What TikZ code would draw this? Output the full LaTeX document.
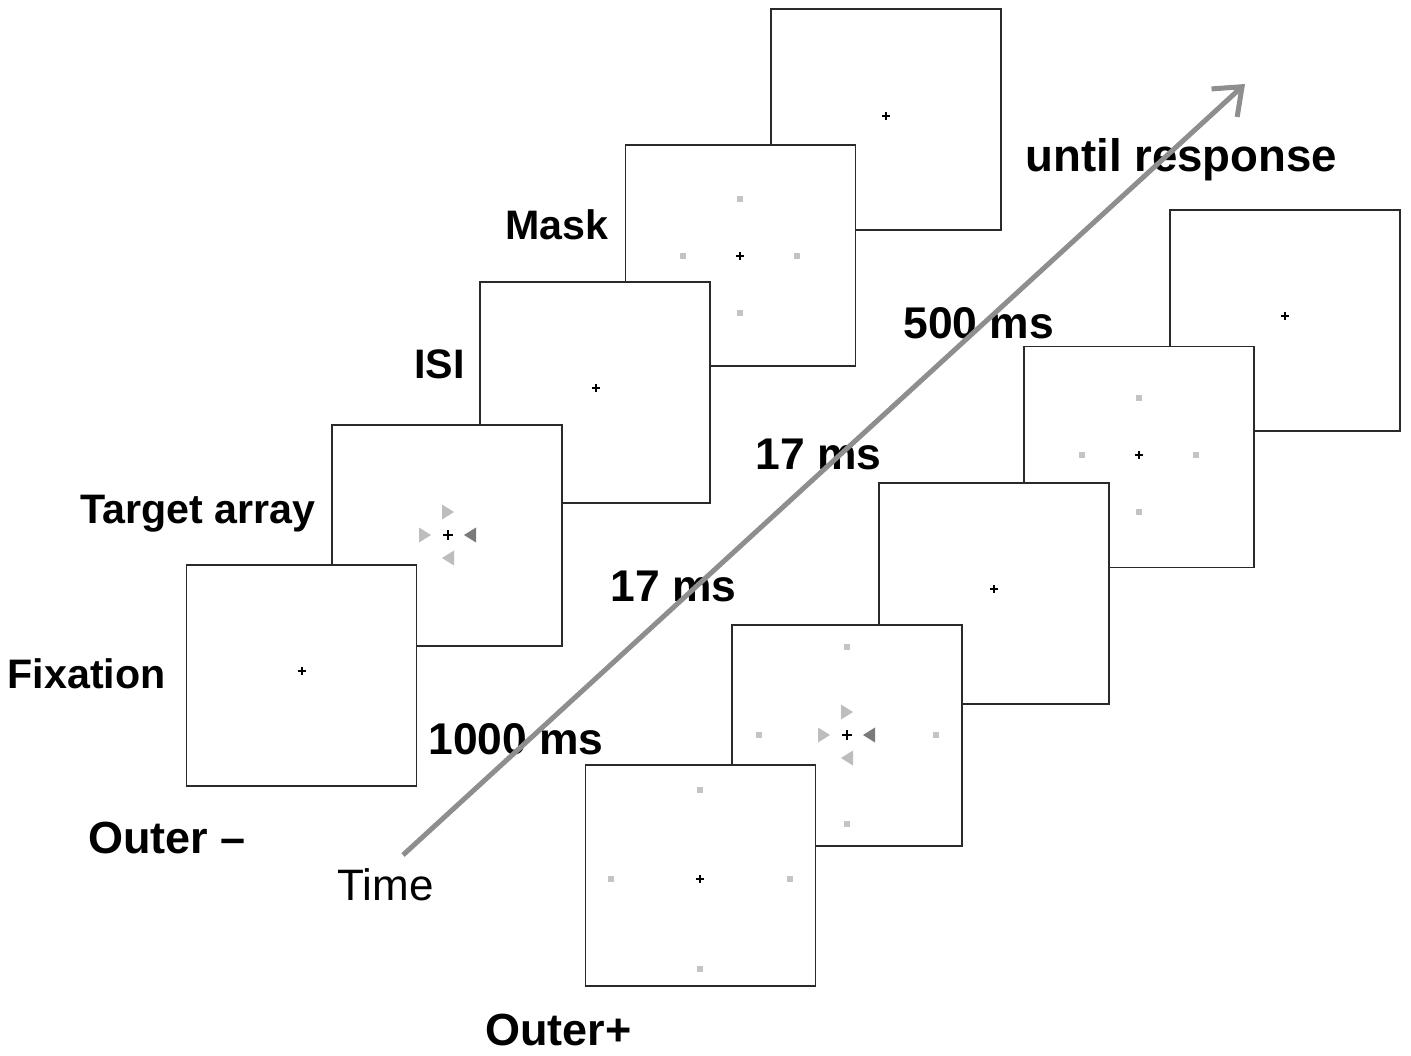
\documentclass[tikz,border=0pt]{standalone}
\usepackage{fontspec}
\setmainfont{Liberation Sans}
\usetikzlibrary{arrows.meta}
\definecolor{dotgray}{HTML}{C4C4C4}
\definecolor{trilight}{HTML}{BDBDBD}
\definecolor{tridark}{HTML}{7A7A7A}
\definecolor{arrowgray}{HTML}{8E8E8E}
\definecolor{framecol}{HTML}{2A2A2A}
\newcommand\smallcross[2]{\draw[line width=0.85pt] (#1-4,#2) -- (#1+4,#2) (#1,#2-4) -- (#1,#2+4);}
\newcommand\boldcross[2]{\draw[line width=1.3pt] (#1-5,#2) -- (#1+5,#2) (#1,#2-5) -- (#1,#2+5);}
\newcommand\gdot[2]{\fill[dotgray] (#1-3,#2-3) rectangle (#1+3,#2+3);}
\newcommand\rtri[3]{\fill[#3] (#1-6,#2-7.5) -- (#1-6,#2+7.5) -- (#1+6,#2) -- cycle;}
\newcommand\ltri[3]{\fill[#3] (#1+6,#2-7.5) -- (#1+6,#2+7.5) -- (#1-6,#2) -- cycle;}
\newcommand\targetset[3]{%
  \rtri{#1}{#2-23}{trilight}\rtri{#1-23}{#2}{trilight}%
  \ltri{#1+22}{#2}{tridark}\ltri{#1}{#2+23}{trilight}%
  \boldcross{#1}{#2}}
\newcommand\outerdots[3]{\gdot{#1}{#2-#3}\gdot{#1}{#2+#3}\gdot{#1-#3}{#2}\gdot{#1+#3}{#2}}
\tikzset{
  frame/.style={draw=framecol, line width=0.75pt, fill=white, minimum width=115pt,
    minimum height=110.5pt, inner sep=0pt, outer sep=0pt},
  stagelabel/.style={font=\bfseries\fontsize{20.6}{24}\selectfont, anchor=base east, inner sep=0pt},
  timelabel/.style={font=\bfseries\fontsize{22.2}{26}\selectfont, anchor=base west, inner sep=0pt},
  grouplabel/.style={font=\bfseries\fontsize{22.5}{27}\selectfont, anchor=base west, inner sep=0pt},
  plainlabel/.style={font=\fontsize{22}{26}\selectfont, anchor=base west, inner sep=0pt},
  timearrow/.style={draw=arrowgray, line width=2.5pt,
    -{Straight Barb[length=12pt,width=19pt]}}
}
\begin{document}
\begin{tikzpicture}[x=0.5pt,y=-0.5pt]
\useasboundingbox (0,0) rectangle (1411,1055);
% ---------- Outer - sequence (back to front) ----------
\node[frame] (a5) at (886,119.5) {};
\smallcross{886}{116}
\node[frame] (a4) at (740.5,255.5) {};
\smallcross{740}{256}
\outerdots{740}{256}{57}
\node[frame] (a3) at (595,392.5) {};
\smallcross{596}{388}
\node[frame] (a2) at (447,535.5) {};
\targetset{448}{535}{0}
\node[frame] (a1) at (301.5,675.5) {};
\smallcross{302}{671}
% ---------- Outer + sequence (back to front) ----------
\node[frame] (b5) at (1285,320.5) {};
\smallcross{1285}{316}
\node[frame] (b4) at (1139,457) {};
\smallcross{1139}{455}
\outerdots{1139}{455}{57}
\node[frame] (b3) at (994,593.5) {};
\smallcross{994}{589}
\node[frame] (b2) at (847,735.5) {};
\targetset{847}{735}{0}
\outerdots{847}{735}{88.5}
\node[frame] (b1) at (700.5,875.5) {};
\smallcross{700}{879}
\outerdots{700}{879}{89.5}
% ---------- labels ----------
\node[stagelabel] (lfix) at (166,688) {Fixation};
\node[stagelabel] (ltar) at (316,523) {Target array};
\node[stagelabel] (lisi) at (465,378) {ISI};
\node[stagelabel] (lmask) at (609,239) {Mask};
\node[timelabel] (t1000) at (428,754) {1000 ms};
\node[timelabel] (t17a) at (610,601) {17 ms};
\node[timelabel] (t17b) at (755,469) {17 ms};
\node[timelabel] (t500) at (903,338) {500 ms};
\node[timelabel,font=\bfseries\fontsize{22.8}{27}\selectfont] (tuntil) at (1025,171) {until response};
\node[grouplabel] (gminus) at (88,853) {Outer --};
\node[grouplabel] (gplus) at (485,1045) {Outer+};
\node[plainlabel] (ltime) at (337,900) {Time};
% ---------- time arrow ----------
\coordinate (tstart) at (403,855);
\coordinate (tend) at (1245,84);
\draw[timearrow] (tstart) -- (tend);
\end{tikzpicture}
\end{document}
